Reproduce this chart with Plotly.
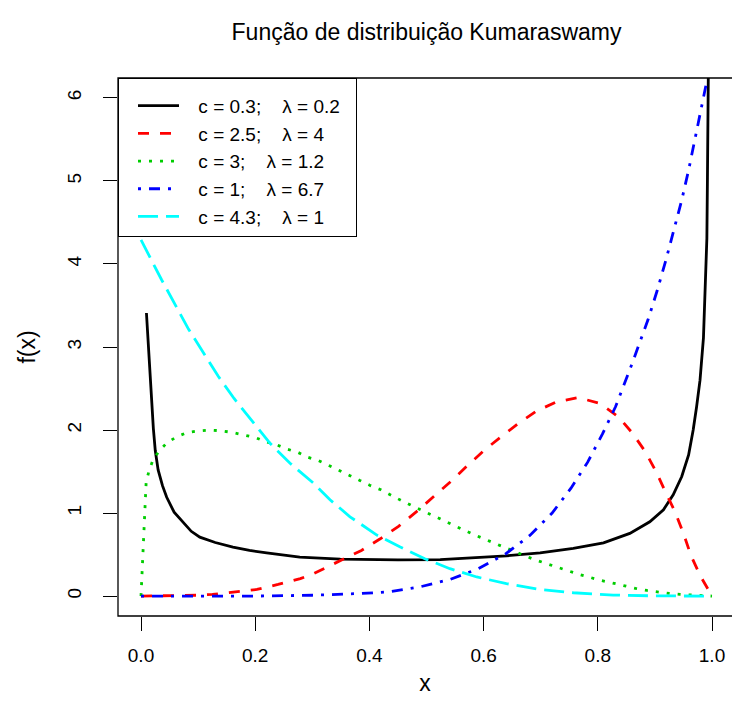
import plotly.graph_objects as go

# ---- data ----
NB = "\u00a0"
labels = [NB * 2 + "\u2009c = 0.3;" + NB * 4 + "λ = 0.2" + NB * 2,
          NB * 2 + "\u2009c = 2.5;" + NB * 4 + "λ = 4",
          NB * 2 + "\u2009c = 3;" + NB * 4 + "λ = 1.2",
          NB * 2 + "\u2009c = 1;" + NB * 4 + "λ = 6.7",
          NB * 2 + "\u2009c = 4.3;" + NB * 4 + "λ = 1"]

x_black = [0.0095, 0.018, 0.0216, 0.025, 0.03, 0.0376, 0.045, 0.058, 0.074, 0.088, 0.103, 0.13, 0.161, 0.19,
           0.22, 0.278, 0.349, 0.45, 0.524, 0.582, 0.640, 0.699, 0.757, 0.81, 0.856, 0.891, 0.915, 0.932,
           0.947, 0.959, 0.967, 0.973, 0.979, 0.985, 0.988, 0.991, 0.992, 0.9935, 0.995]
y_black = [3.41, 2.40, 2.02, 1.75, 1.52, 1.33, 1.19, 1.01, 0.88, 0.78, 0.71, 0.645, 0.59, 0.55,
           0.52, 0.47, 0.445, 0.435, 0.44, 0.46, 0.485, 0.52, 0.575, 0.64, 0.755, 0.895, 1.04, 1.22,
           1.44, 1.70, 2.0, 2.28, 2.60, 3.11, 3.83, 4.31, 5.04, 6.24, 7.5]

x_red = [0.0, 0.05, 0.1, 0.125, 0.163, 0.203, 0.24, 0.279, 0.302, 0.345, 0.386, 0.419, 0.451, 0.483, 0.512,
         0.541, 0.570, 0.600, 0.629, 0.661, 0.693, 0.728, 0.766, 0.804, 0.836, 0.861, 0.883, 0.902, 0.918,
         0.935, 0.95, 0.963, 0.979, 1.0]
y_red = [0.0, 0.002, 0.01, 0.02, 0.045, 0.08, 0.14, 0.21, 0.27, 0.41, 0.55, 0.69, 0.84, 1.02, 1.19,
         1.37, 1.56, 1.75, 1.91, 2.08, 2.23, 2.34, 2.39, 2.32, 2.16, 1.96, 1.74, 1.50, 1.26,
         1.02, 0.755, 0.49, 0.25, 0.0]

x_green = [0.0, 0.003, 0.006, 0.009, 0.014, 0.021, 0.032, 0.046, 0.063, 0.081, 0.101, 0.121, 0.141, 0.161,
           0.18, 0.2, 0.218, 0.238, 0.256, 0.275, 0.293, 0.311, 0.33, 0.347, 0.366, 0.384, 0.402, 0.42,
           0.438, 0.456, 0.474, 0.492, 0.51, 0.528, 0.546, 0.564, 0.583, 0.601, 0.619, 0.637, 0.656,
           0.674, 0.693, 0.712, 0.73, 0.75, 0.768, 0.787, 0.807, 0.826, 0.846, 0.866, 0.886, 0.905,
           0.925, 0.944, 0.965, 0.985, 1.0]
y_green = [0.0, 0.4, 0.85, 1.37, 1.51, 1.64, 1.75, 1.85, 1.92, 1.97, 1.99, 2.00, 1.99, 1.97,
           1.94, 1.91, 1.86, 1.82, 1.77, 1.73, 1.67, 1.63, 1.57, 1.51, 1.45, 1.39, 1.33, 1.28,
           1.21, 1.15, 1.09, 1.03, 0.97, 0.92, 0.855, 0.80, 0.74, 0.687, 0.635, 0.58, 0.53,
           0.48, 0.43, 0.385, 0.34, 0.30, 0.26, 0.22, 0.185, 0.157, 0.122, 0.093, 0.068, 0.048,
           0.032, 0.02, 0.012, 0.004, 0.0]

x_blue = [0.0, 0.2, 0.3, 0.326, 0.38, 0.434, 0.488, 0.541, 0.591, 0.639, 0.681, 0.72, 0.753, 0.782, 0.808,
          0.831, 0.86, 0.888, 0.904, 0.919, 0.933, 0.947, 0.959, 0.970, 0.981, 0.992, 1.0]
y_blue = [0.0, 0.0, 0.01, 0.016, 0.03, 0.05, 0.11, 0.20, 0.33, 0.51, 0.73, 1.00, 1.30, 1.61, 1.95,
          2.28, 2.80, 3.33, 3.68, 4.04, 4.41, 4.77, 5.13, 5.50, 5.86, 6.24, 6.7]

x_cyan = [0.0, 0.036, 0.0836, 0.109, 0.135, 0.163, 0.195, 0.226, 0.261, 0.302, 0.331, 0.366, 0.413, 0.454,
          0.497, 0.541, 0.588, 0.640, 0.699, 0.757, 0.827, 0.9, 1.0]
y_cyan = [4.29, 3.81, 3.21, 2.93, 2.65, 2.38, 2.10, 1.84, 1.60, 1.36, 1.16, 0.955, 0.735, 0.59,
          0.45, 0.33, 0.23, 0.15, 0.08, 0.04, 0.012, 0.002, 0.0]

x_ticks = [0.0, 0.2, 0.4, 0.6, 0.8, 1.0]
x_ticktext = ["0.0", "0.2", "0.4", "0.6", "0.8", "1.0"]
y_ticks = [0, 1, 2, 3, 4, 5, 6]

FONT = "Liberation Sans, Arial, Helvetica, sans-serif"

series = [
    (x_black, y_black, "black", "solid"),
    (x_red, y_red, "#FF0000", "11px,11px"),
    (x_green, y_green, "#00CD00", "3px,8px"),
    (x_blue, y_blue, "#0000FF", "3px,8px,11px,8px"),
    (x_cyan, y_cyan, "#00FFFF", "20px,8px"),
]

fig = go.Figure()
for i, (xs, ys, col, dash) in enumerate(series):
    fig.add_trace(go.Scatter(x=xs, y=ys, mode="lines", name=labels[i],
                             line=dict(color=col, width=2.8, dash=dash)))

fig.update_layout(
    width=732, height=721,
    margin=dict(l=118, r=0, t=78, b=105),
    plot_bgcolor="white", paper_bgcolor="white",
    font=dict(family=FONT, size=19, color="black"),
    title=dict(text="Função de distribuição Kumaraswamy", x=426.5 / 732, xref="container", xanchor="center",
               y=1 - 32 / 721, yref="container", yanchor="middle", font=dict(size=23, color="black")),
    showlegend=True,
    legend=dict(x=0, y=1, xanchor="left", yanchor="top", bgcolor="white", bordercolor="black", borderwidth=1,
                font=dict(size=19, color="black"), itemwidth=41, indentation=14,
                title=dict(text=NB, font=dict(size=6))),
    xaxis=dict(range=[-0.0403, 1.035], tickvals=x_ticks, ticktext=x_ticktext, ticks="outside", ticklen=14,
               tickwidth=1, tickcolor="black", showgrid=False, zeroline=False, showline=False,
               ticklabelstandoff=8, title=dict(text="x", standoff=10)),
    yaxis=dict(range=[-0.24, 6.24], tickvals=y_ticks, tickangle=-90, ticks="outside", ticklen=14,
               tickwidth=1, tickcolor="black", showgrid=False, zeroline=False, showline=False,
               ticklabelstandoff=14, title=dict(text="f(x)", standoff=22)),
    shapes=[dict(type="rect", xref="paper", yref="paper", x0=0, x1=1.02, y0=0, y1=1,
                 line=dict(color="black", width=1.3))],
)

fig.write_html("out.html")
